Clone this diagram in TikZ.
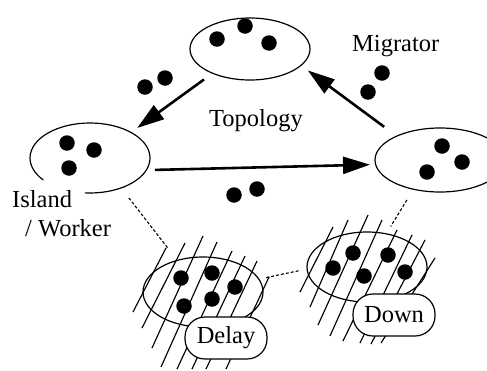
\documentclass[tikz,border=0pt]{standalone}
\usepackage{fontspec}
\setmainfont{Liberation Serif}
\usetikzlibrary{arrows.meta,shapes.geometric}
\begin{document}
\begin{tikzpicture}[x=1pt,y=-1pt,
  island/.style={ellipse, line width=1.2pt, inner sep=0pt, minimum width=120pt, minimum height=70pt},
  dot/.style={circle, fill=black, inner sep=0pt, minimum size=15.5pt},
  flow/.style={line width=2.6pt, -{Triangle[length=27pt,width=17pt]}},
  link/.style={line width=1.1pt, dash pattern=on 3pt off 2pt},
  hatch/.style={line width=1.15pt},
  tag/.style={draw, fill=white, line width=1.2pt, rounded corners=20pt,
              minimum width=82pt, minimum height=42pt, inner sep=0pt,
              font=\rmfamily\fontsize{24.5}{28}\selectfont},
  lbl/.style={inner sep=0pt, font=\rmfamily\fontsize{24.5}{28}\selectfont}]
\path[use as bounding box, clip] (0,0) rectangle (487,370);

% hatching of the slow island
\foreach \ax/\ay/\bx/\by in {166/248/133/312, 185/243/142/328, 203/236/152/348,
    217/242/161/367, 232/251/177/369, 245/256/192/369, 257/261/206/369, 269/277/226/369}
  \draw[hatch] (\ax,\ay) -- (\bx,\by);
% hatching of the failed island
\foreach \ax/\ay/\bx/\by in {333/227/300/292, 348/220/310/307, 368/215/318/325,
    382/220/330/336, 397/230/343/341, 412/235/360/343, 425/240/371/344, 435/258/381/343}
  \draw[hatch] (\ax,\ay) -- (\bx,\by);

% islands
\node[island, draw, minimum height=62pt] (T) at (250,49) {};
\node[island] (L) at (90,158) {};
\draw[line width=1.2pt] (L.center) ++(141:60 and 35) arc[start angle=141, end angle=455, x radius=60, y radius=35];
\node[island, draw, minimum width=130pt, minimum height=64pt] (R) at (440,160) {};
\node[island, draw] (Dl) at (203,292) {};
\node[island, draw] (Dn) at (367,267) {};

% individuals
\node[dot] (t1) at (245,26) {};
\node[dot] (t2) at (217,39) {};
\node[dot] (t3) at (269,43) {};
\node[dot] (l1) at (67,143) {};
\node[dot] (l2) at (94,150) {};
\node[dot] (l3) at (69,168) {};
\node[dot] (r1) at (442,146) {};
\node[dot] (r2) at (462,162) {};
\node[dot] (r3) at (427,172) {};
\node[dot] (a1) at (181,278) {};
\node[dot] (a2) at (212,273) {};
\node[dot] (a3) at (235,287) {};
\node[dot] (a4) at (184,306) {};
\node[dot] (a5) at (212,299) {};
\node[dot] (b1) at (353,253) {};
\node[dot] (b2) at (388,255) {};
\node[dot] (b3) at (333,268) {};
\node[dot] (b4) at (364,276) {};
\node[dot] (b5) at (405,272) {};

% migrants
\node[dot] (m1) at (145,87) {};
\node[dot] (m2) at (165,78) {};
\node[dot] (m3) at (382,73) {};
\node[dot] (m4) at (368,92) {};
\node[dot] (m5) at (234,195) {};
\node[dot] (m6) at (257,189) {};

% migration topology
\draw[flow, shorten <=10pt, shorten >=7pt] (T.213) -- (L.32);
\draw[flow, shorten <=15pt, shorten >=8pt] (R.151) -- (T.-18);
\draw[flow, shorten <=8pt, shorten >=5pt] (L.-12) -- (R.184);

% links to the faulty islands
\draw[link, shorten <=12pt, shorten >=15pt] (L.-44) -- (Dl.129);
\draw[link, shorten <=7pt, shorten >=7pt] (Dl.13.6) -- (Dn.182.6);
\draw[link, shorten <=12pt, shorten >=8pt] (R.228) -- (Dn.60);

% state tags
\node[tag] (delay) at (226,338) {Delay};
\node[tag] (down) at (394,315) {Down};

% labels
\node[lbl, anchor=base west] (mig) at (352,51) {Migrator};
\node[lbl, anchor=base west] (topo) at (209,126) {Topology};
\node[lbl, anchor=base west] (isl) at (12,207) {Island};
\node[lbl, anchor=base west] (wrk) at (25,236) {/ Worker};
\end{tikzpicture}
\end{document}
